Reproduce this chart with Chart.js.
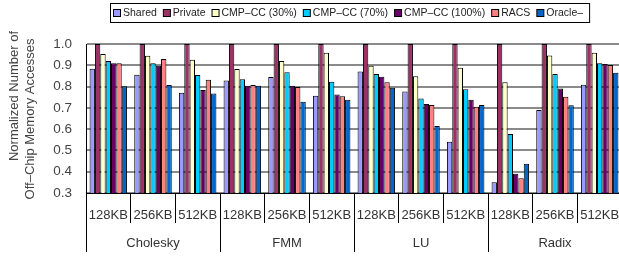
<!DOCTYPE html>
<html>
<head>
<meta charset="utf-8">
<script src="https://cdn.jsdelivr.net/npm/chart.js@4"></script>
<style>
    html, body { margin: 0; padding: 0; background: #fff; overflow: hidden; }
    #wrap { position: absolute; left: 0; top: 0; width: 630px; height: 258px; }
</style>
</head>
<body>
<div id="wrap"><canvas id="chart"></canvas></div>
<script>
const sizes = ['128KB', '256KB', '512KB', '128KB', '256KB', '512KB', '128KB', '256KB', '512KB', '128KB', '256KB', '512KB'];
const benchmarks = ['Cholesky', 'FMM', 'LU', 'Radix'];
const yTicks = [0.3, 0.4, 0.5, 0.6, 0.7, 0.8, 0.9, 1.0];

const shared = [0.884, 0.856, 0.771, 0.829, 0.845, 0.757, 0.871, 0.777, 0.541, 0.350, 0.690, 0.809];
const privateL2 = [1, 1, 1, 1, 1, 1, 1, 1, 1, 1, 1, 1];
const cmpcc30 = [0.953, 0.945, 0.926, 0.882, 0.920, 0.959, 0.898, 0.849, 0.888, 0.820, 0.946, 0.959];
const cmpcc70 = [0.920, 0.910, 0.854, 0.834, 0.867, 0.823, 0.859, 0.744, 0.788, 0.577, 0.859, 0.910];
const cmpcc100 = [0.910, 0.898, 0.784, 0.804, 0.804, 0.763, 0.846, 0.718, 0.738, 0.391, 0.791, 0.906];
const racs = [0.909, 0.929, 0.832, 0.807, 0.798, 0.755, 0.820, 0.713, 0.705, 0.369, 0.752, 0.901];
const oracle = [0.802, 0.807, 0.768, 0.804, 0.729, 0.738, 0.795, 0.615, 0.713, 0.438, 0.712, 0.865];

const FONT = "'Liberation Sans', Arial, sans-serif";

const series = [
    { label: 'Shared', data: shared, color: '#9999FF' },
    { label: 'Private', data: privateL2, color: '#993366' },
    { label: 'CMP-CC (30%)', data: cmpcc30, color: '#FFFFCC' },
    { label: 'CMP-CC (70%)', data: cmpcc70, color: '#00CCFF' },
    { label: 'CMP-CC (100%)', data: cmpcc100, color: '#660066' },
    { label: 'RACS', data: racs, color: '#FF8080' },
    { label: 'Oracle-', data: oracle, color: '#0066CC' },
];

// legend box, y title, benchmark row and long separators
const decor = {
    id: 'decor',
    afterDraw(chart) {
        const { ctx } = chart;
        const x = chart.scales.x;

        ctx.save();
        ctx.strokeStyle = '#000';
        ctx.lineWidth = 1;
        for (let i = 0; i <= sizes.length; i += 3) {
            const px = Math.round(x.getPixelForValue(i - 0.5)) + 0.5;
            ctx.beginPath();
            ctx.moveTo(px, x.top);
            ctx.lineTo(px, 252);
            ctx.stroke();
        }

        ctx.fillStyle = '#333';
        ctx.font = '13px ' + FONT;
        ctx.textAlign = 'center';
        ctx.textBaseline = 'middle';
        benchmarks.forEach((name, i) => {
            ctx.fillText(name, x.getPixelForValue(i * 3 + 1), 243);
        });

        // y title
        ctx.fillStyle = '#444';
        ctx.save();
        ctx.translate(14, 96);
        ctx.rotate(-Math.PI / 2);
        ctx.fillText('Normalized Number of', 0, 0);
        ctx.restore();
        ctx.save();
        ctx.translate(30, 119);
        ctx.rotate(-Math.PI / 2);
        ctx.fillText('Off\u2013Chip Memory Accesses', 0, 0);
        ctx.restore();

        // legend
        ctx.font = '10.5px ' + FONT;
        ctx.textAlign = 'left';
        let lx = 113;
        const ly = 13;
        chart.data.datasets.forEach((ds) => {
            ctx.fillStyle = ds.backgroundColor;
            ctx.fillRect(lx + 0.5, ly - 3.5, 7, 7);
            ctx.strokeStyle = '#000';
            ctx.strokeRect(lx + 0.5, ly - 3.5, 7, 7);
            ctx.fillStyle = '#222';
            ctx.fillText(ds.label.replace(/-/g, '\u2013'), lx + 10, ly + 0.5);
            lx += 10 + ctx.measureText(ds.label.replace(/-/g, '\u2013')).width + 6;
        });
        ctx.strokeStyle = '#000';
        ctx.strokeRect(110.5, 3.5, lx - 110, 19);
        ctx.restore();
    },
};

new Chart(document.getElementById('chart'), {
    type: 'bar',
    data: {
        labels: sizes,
        datasets: series.map((s) => ({
            label: s.label,
            data: s.data,
            backgroundColor: s.color,
            borderColor: '#000',
            borderWidth: 1,
            borderSkipped: 'bottom',
            categoryPercentage: 0.84,
            barPercentage: 1.0,
        })),
    },
    options: {
        responsive: true,
        maintainAspectRatio: false,
        animation: false,
        layout: { padding: { top: 44, right: 8, left: 0, bottom: 0 } },
        plugins: {
            legend: { display: false },
            tooltip: { enabled: false },
        },
        scales: {
            x: {
                grid: {
                    offset: true,
                    drawOnChartArea: false,
                    drawTicks: true,
                    tickLength: 30,
                    tickColor: '#000',
                    tickWidth: 1,
                },
                border: { color: '#000', width: 1 },
                ticks: {
                    autoSkip: false,
                    maxRotation: 0,
                    padding: -15,
                    color: '#333',
                    font: { family: FONT, size: 13 },
                },
                afterFit: (scale) => { scale.height = 65; },
            },
            y: {
                min: 0.3,
                max: 1.0,
                grid: { color: '#8a8a8a', lineWidth: 2, drawTicks: false },
                border: { color: '#000', width: 1 },
                afterBuildTicks: (scale) => { scale.ticks = yTicks.map((v) => ({ value: v })); },
                ticks: {
                    padding: 14,
                    color: '#444',
                    font: { family: FONT, size: 13.5 },
                    callback: (v) => Number(v).toFixed(1),
                },
                afterFit: (scale) => { scale.width = 86; },
            },
        },
    },
    plugins: [decor],
});
</script>
</body>
</html>
